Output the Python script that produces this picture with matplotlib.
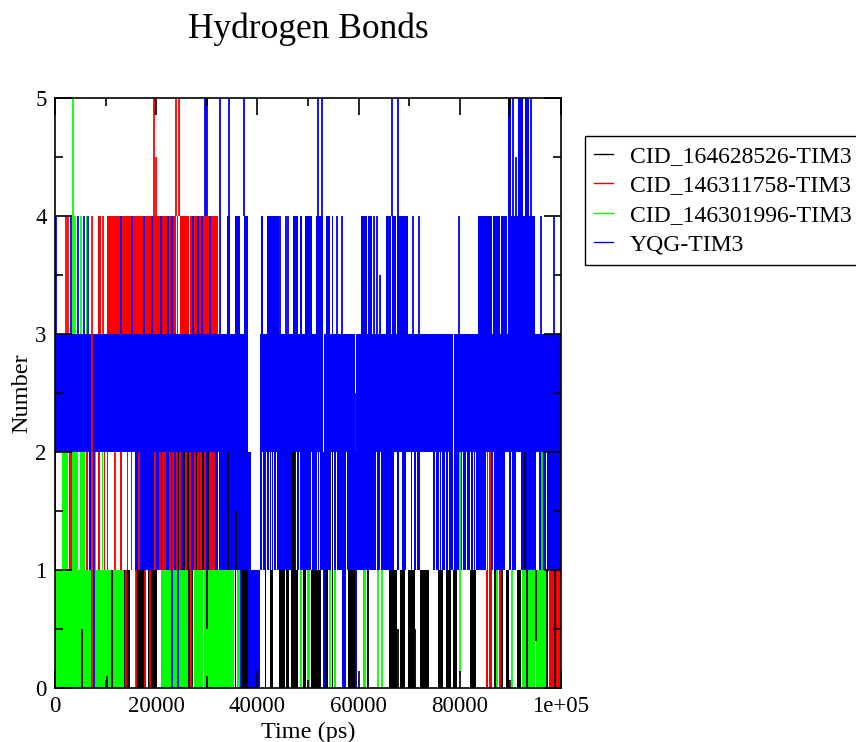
import matplotlib
matplotlib.use("Agg")
import matplotlib.pyplot as plt
from matplotlib.lines import Line2D
from matplotlib.ticker import FixedLocator, MultipleLocator

plt.rcParams['font.family'] = ['Liberation Serif', 'DejaVu Serif']

# legend names / colours
names = ['CID_164628526-TIM3', 'CID_146311758-TIM3', 'CID_146301996-TIM3', 'YQG-TIM3']
colors = ['#000000', '#ff0000', '#00ff00', '#0000ff']

# time spans (ps) where a set flickers between two integer levels
# black set
black_b01 = [(11070, 11500), (13650, 14800), (16070, 18000), (18400, 20100), (35500, 35830),
             (36800, 38100), (41550, 41750), (42500, 43100), (44350, 45450), (45700, 46250),
             (46600, 48000), (49000, 49650), (50650, 52650), (53450, 53900), (54650, 55000),
             (57950, 59600), (66100, 67600), (68250, 69150), (69700, 71150), (72150, 73950),
             (75750, 76750), (77350, 78350), (78700, 79400), (81950, 83200), (89050, 89800),
             (91250, 92000)]
black_b12 = [(46900, 47350), (54670, 55000)]
# single vertical strokes: (time, from, to)
black_lines = [(5270, 0, 0.5), (10210, 0, 0.1), (19760, 4.86, 5), (22950, 1, 2), (24400, 1, 2),
               (25500, 1, 2), (26280, 1, 2), (26550, 0, 1), (27100, 0, 1), (27930, 1, 2),
               (29250, 1, 2), (29840, 4.9, 5), (29990, 0, 0.1), (30100, 0.5, 1), (30230, 1, 2),
               (34100, 1, 2), (35700, 1, 1.5), (61900, 0, 1), (67700, 0, 0.5), (71200, 0, 0.5),
               (87000, 0, 1), (88250, 0, 1), (89800, 4.85, 5), (92870, 1, 2), (93300, 0, 1),
               (95000, 0.4, 1), (97300, 0, 1), (98750, 0, 1)]

# red set
red_b01 = [(85250, 85650), (85850, 86400), (87750, 88350), (97600, 98600), (98900, 100000)]
red_b12 = [(2750, 3300), (6200, 6600), (8550, 8950), (9600, 9800), (10200, 10500),
           (12850, 13170), (14160, 14490), (15020, 15280), (85300, 85600), (85850, 86200)]
red_b34 = [(8560, 9090), (10210, 23900), (24100, 24400), (24700, 26450), (26750, 32300)]
red_lines = [(2110, 3, 4), (2630, 3, 4), (7350, 0, 4), (9550, 3, 4), (11860, 1, 2),
             (14030, 0, 1), (15940, 0, 1), (16650, 1, 2), (17780, 0, 1), (18770, 0, 1),
             (19620, 4, 5), (19960, 4, 4.5), (19750, 1, 2), (20800, 1, 2), (21300, 1, 2),
             (21800, 1, 2), (22700, 1, 2), (23300, 1, 2), (24000, 4, 5), (24600, 4, 5),
             (24100, 1, 2), (24700, 1, 2), (25950, 1, 2), (26740, 1, 2), (26810, 0, 1),
             (27600, 1, 2), (28260, 1, 2), (28920, 1, 2), (29700, 1, 2), (29840, 4, 4.9),
             (30560, 1, 2), (31100, 1, 2), (31350, 1, 2)]

# green set
green_b01 = [(0, 11050), (11520, 13600), (21000, 22850), (23200, 24200), (24600, 26300),
             (27500, 29300), (29450, 35450), (35900, 36500), (48400, 48750), (49900, 50300),
             (55200, 55500), (60800, 61500), (87050, 87600), (92200, 93100), (93500, 94950),
             (95150, 97100)]
green_b12 = [(1400, 2600), (3400, 4600), (4900, 6000), (7900, 8200), (9200, 9500)]
green_lines = [(3500, 3, 5), (4000, 3, 4), (5140, 3, 4), (6260, 3, 4), (54340, 0, 1),
               (63800, 0, 1), (64550, 0, 1), (80030, 0.1, 2), (90240, 0, 1), (96170, 1, 2)]

# blue set
blue_b01 = [(38100, 40550), (53000, 53350), (56650, 57600)]
blue_b12 = [(0, 250), (6700, 7150), (15800, 32200), (32400, 38800), (40500, 41000),
            (41200, 41650), (41850, 42200), (42400, 42650), (42850, 43100), (43300, 43650),
            (43850, 46850), (47400, 47600), (47800, 48250), (48450, 50550), (50800, 51800),
            (52000, 52250), (52450, 54600), (55050, 55450), (55650, 57550), (57800, 63350),
            (63650, 64150), (64400, 67000), (67300, 67450), (67650, 68000), (68600, 69400),
            (70450, 70600), (70900, 71250), (71450, 72050), (74700, 75100), (75300, 75850),
            (76100, 76300), (76550, 77000), (77200, 77600), (77800, 78600), (78900, 79900),
            (80150, 80350), (80550, 81300), (81500, 82050), (82250, 82550), (82750, 83050),
            (83250, 85250), (86250, 86550), (86700, 87850), (88000, 88950), (89800, 90150),
            (90350, 91150), (92000, 95100), (95700, 97050), (97300, 100000)]
blue_b23 = [(0, 38200), (40500, 52950), (53150, 59300), (59450, 78600), (78800, 100000)]
blue_b34 = [(33900, 34600), (35550, 36550), (37400, 38200), (40800, 41150), (41800, 44300),
            (47000, 48100), (48400, 48750), (49400, 50750), (51550, 53000), (53650, 54350),
            (54650, 55000), (60400, 61600), (61900, 62600), (65500, 66450), (66600, 67450),
            (67600, 69800), (83600, 84700), (84850, 86350), (86500, 88000), (88150, 89250),
            (89450, 94850)]
blue_b45 = [(89500, 90100), (91600, 92400), (92900, 93600)]
blue_lines = [(150, 3, 4), (3160, 3, 4), (4610, 3, 4), (5800, 3, 4), (6590, 3, 4),
              (7700, 0, 2), (12980, 3, 4), (15280, 3, 4), (17650, 3, 4), (19100, 3, 4),
              (20950, 3, 4), (22260, 3, 4), (23190, 3, 4), (23050, 0, 1), (24400, 0, 1),
              (27270, 3, 4), (28260, 3, 4), (29110, 3, 4), (29640, 4, 5), (30040, 4, 5),
              (30560, 3, 4), (32600, 3, 5), (34440, 4, 5), (36700, 0, 1), (37410, 4, 5),
              (44550, 3, 4), (45650, 3, 4), (46100, 3, 4), (52030, 4, 5), (52820, 4, 5),
              (55800, 3, 4), (56650, 3, 4), (59380, 2, 2.5), (59480, 0, 1), (63030, 3, 4),
              (63560, 3, 4), (64200, 3, 3.5), (66530, 4, 5), (67840, 4, 5), (70800, 3, 4),
              (72000, 3, 4), (79830, 3, 4), (90550, 4, 5), (91050, 4, 4.5), (94100, 4, 5),
              (95970, 3, 4), (98600, 3, 4)]

fig = plt.figure(figsize=(8.56, 7.42), dpi=100)
ax = fig.add_axes([55 / 856, 1 - 688 / 742, 506 / 856, 590 / 742])

series = [
    (colors[0], [(0, 1, black_b01), (1, 2, black_b12)], black_lines),
    (colors[1], [(0, 1, red_b01), (1, 2, red_b12), (3, 4, red_b34)], red_lines),
    (colors[2], [(0, 1, green_b01), (1, 2, green_b12)], green_lines),
    (colors[3], [(0, 1, blue_b01), (1, 2, blue_b12), (2, 3, blue_b23),
                 (3, 4, blue_b34), (4, 5, blue_b45)], blue_lines),
]

for col, bands, lines in series:
    for lo, hi, spans in bands:
        ax.broken_barh([(a, b - a) for a, b in spans], (lo, hi - lo),
                       facecolors=col, edgecolor='none', zorder=1)
for col, bands, lines in series:
    t = [l[0] for l in lines]
    ax.vlines(t, [l[1] for l in lines], [l[2] for l in lines], colors=col, lw=1.3, zorder=1.5)

ax.set_xlim(0, 100000)
ax.set_ylim(0, 5)
ax.set_axisbelow(False)
ax.xaxis.set_major_locator(FixedLocator([0, 20000, 40000, 60000, 80000, 100000]))
ax.set_xticklabels(['0', '20000', '40000', '60000', '80000', '1e+05'])
ax.xaxis.set_minor_locator(MultipleLocator(10000))
ax.yaxis.set_major_locator(MultipleLocator(1))
ax.yaxis.set_minor_locator(MultipleLocator(0.5))
ax.tick_params(which='both', direction='in', top=True, right=True, labelsize=16.5, width=1.2)
ax.tick_params(which='major', length=12, pad=6)
ax.tick_params(which='minor', length=6)
for s in ax.spines.values():
    s.set_linewidth(1.2)
    s.set_zorder(3)

ax.set_xlabel('Time (ps)', fontsize=17.5, labelpad=3)
ax.set_ylabel('Number', fontsize=17.5, labelpad=2)
fig.text(308 / 856, 1 - 29 / 742, 'Hydrogen Bonds', fontsize=25.5, ha='center', va='center')

handles = [Line2D([], [], color=c, lw=1.0) for c in colors]
fig.legend(handles, names, loc='upper left', bbox_to_anchor=(585 / 856, 1 - 136 / 742),
           fontsize=17, frameon=True, fancybox=False, edgecolor='black', framealpha=1,
           handlelength=0.8, handletextpad=0.7, labelspacing=0.34, borderpad=0.4,
           borderaxespad=0)

fig.savefig('out.png', dpi=100)
